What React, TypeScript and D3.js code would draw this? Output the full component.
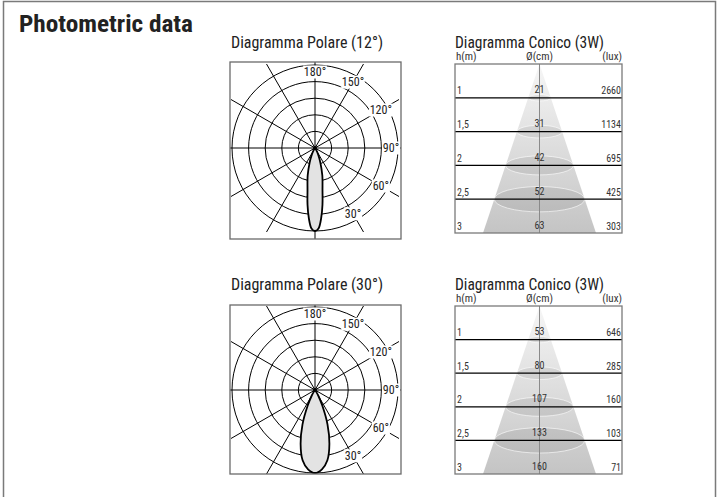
import React from "react";
import * as d3 from "d3";

// ---------- data ----------
const ringLevels = [0.2, 0.4, 0.6, 0.8, 1.0];
const spokeAngles = [0, 30, 60, 90, 120, 150, 180, 210, 240, 270, 300, 330];
const angleLabelValues = [180, 150, 120, 90, 60, 30];

// relative intensity vs. angle from the downward axis (degrees)
const lobe12Angles = [0, 2.5, 5, 7.5, 10, 15, 20, 25, 30, 40];
const lobe12Values = [1, 0.97, 0.85, 0.69, 0.52, 0.34, 0.19, 0.094, 0.04, 0];
const lobe30Angles = [0, 5, 10, 15, 20, 25, 30, 35, 40];
const lobe30Values = [1, 0.96, 0.86, 0.67, 0.44, 0.21, 0.08, 0.02, 0];

const heights = ["1", "1,5", "2", "2,5", "3"];
const diam12 = [21, 31, 42, 52, 63];
const lux12 = [2660, 1134, 695, 425, 303];
const diam30 = [53, 80, 107, 133, 160];
const lux30 = [646, 285, 160, 103, 71];

const FONT = "'Liberation Sans Narrow', 'Roboto Condensed', 'Liberation Sans', Arial, sans-serif";

type PolarProps = { x: number; y: number; w: number; h: number; cx: number; cy: number; angles: number[]; values: number[]; id: string };

function Polar({ x, y, w, h, cx, cy, angles, values, id }: PolarProps) {
  const R = 83;
  const r = d3.scaleLinear().domain([0, 1]).range([0, R]);
  const rad = (deg: number) => (deg * Math.PI) / 180;
  const pts: [number, number][] = [];
  for (let i = angles.length - 1; i >= 0; i--) pts.push([Math.PI - rad(angles[i]), r(values[i])]);
  for (let i = 1; i < angles.length; i++) pts.push([Math.PI + rad(angles[i]), r(values[i])]);
  const lobe = d3.lineRadial<[number, number]>().angle((d) => d[0]).radius((d) => d[1]).curve(d3.curveCatmullRom.alpha(0.5))(pts) || "";
  const spokeLen = 97;
  const labelR = 76;
  return (
    <g>
      <defs>
        <clipPath id={id}>
          <rect x={x} y={y} width={w} height={h} />
        </clipPath>
      </defs>
      <g clipPath={`url(#${id})`}>
        {spokeAngles.map((a) => (
          <line key={a} x1={cx} y1={cy} x2={cx + spokeLen * Math.sin(rad(a))} y2={cy - spokeLen * Math.cos(rad(a))} stroke="#000" strokeWidth={1} />
        ))}
        {ringLevels.map((l) => (
          <circle key={l} cx={cx} cy={cy} r={r(l)} fill="none" stroke="#000" strokeWidth={1} />
        ))}
        <path d={lobe} transform={`translate(${cx},${cy})`} fill="#e3e3e3" stroke="#000" strokeWidth={1.8} />
        <circle cx={cx} cy={cy} r={2} fill="#000" />
        {angleLabelValues.map((v) => {
          const a = rad(180 - v);
          const lx = cx + labelR * Math.sin(a);
          const ly = cy - labelR * Math.cos(a);
          const txt = `${v}°`;
          const tw = txt.length * 5.4;
          return (
            <g key={v}>
              <rect x={lx - tw / 2 - 1} y={ly - 6.5} width={tw + 2} height={13} fill="#fff" />
              <text x={lx} y={ly + 4.2} textAnchor="middle" fontSize={12} fontFamily={FONT} fill="#222">
                {txt}
              </text>
            </g>
          );
        })}
      </g>
      <rect x={x} y={y} width={w} height={h} fill="none" stroke="#6a6a6a" strokeWidth={1.3} />
    </g>
  );
}

type ConicProps = { x: number; y: number; w: number; h: number; diam: number[]; lux: number[]; id: string };

function Conic({ x, y, w, h, diam, lux, id }: ConicProps) {
  const band = d3.scaleBand<string>().domain(heights).range([y, y + h]).padding(0);
  const cx = x + w / 2 + 1;
  const half = d3.scaleLinear().domain([y, y + h]).range([0, 56.5]);
  const gid = id + "g";
  return (
    <g>
      <defs>
        <linearGradient id={gid} x1="0" y1="0" x2="0" y2="1">
          <stop offset="0" stopColor="#f6f6f6" />
          <stop offset="1" stopColor="#c4c4c4" />
        </linearGradient>
        <clipPath id={id}>
          <rect x={x} y={y} width={w} height={h} />
        </clipPath>
      </defs>
      <text x={x + 1} y={y - 4} fontSize={11} fontFamily={FONT} fill="#333">h(m)</text>
      <text x={cx} y={y - 4} fontSize={11} fontFamily={FONT} fill="#333" textAnchor="middle">Ø(cm)</text>
      <text x={x + w} y={y - 4} fontSize={11} fontFamily={FONT} fill="#333" textAnchor="end">(lux)</text>
      <g clipPath={`url(#${id})`}>
        <path d={`M${cx},${y} L${cx + half(y + h)},${y + h} L${cx - half(y + h)},${y + h} Z`} fill={`url(#${gid})`} />
        {heights.slice(0, 4).map((hh) => {
          const ly = (band(hh) as number) + band.bandwidth();
          const rx = half(ly);
          return <ellipse key={hh} cx={cx} cy={ly} rx={rx} ry={rx * 0.28} fill="#000" fillOpacity={0.07} stroke="#fff" strokeOpacity={0.6} strokeWidth={1} />;
        })}
        <line x1={cx} y1={y} x2={cx} y2={y + h} stroke="#8a8a8a" strokeWidth={1} />
        {heights.slice(0, 4).map((hh) => {
          const ly = (band(hh) as number) + band.bandwidth();
          return <line key={hh} x1={x} y1={ly} x2={x + w} y2={ly} stroke="#000" strokeWidth={1.2} />;
        })}
      </g>
      {heights.map((hh, i) => {
        const ly = (band(hh) as number) + band.bandwidth() - 3.5;
        return (
          <g key={hh} fontFamily={FONT} fontSize={10} fill="#333">
            <text x={x + 2} y={ly}>{hh}</text>
            <text x={cx} y={ly - 1} textAnchor="middle">{diam[i]}</text>
            <text x={x + w - 1} y={ly} textAnchor="end">{lux[i]}</text>
          </g>
        );
      })}
      <rect x={x} y={y} width={w} height={h} fill="none" stroke="#7a7a7a" strokeWidth={1.3} />
    </g>
  );
}

export default function App() {
  return (
    <svg width={718} height={497} style={{ position: "absolute", left: 0, top: 0 }}>
      <rect width={718} height={497} fill="#fff" />
      <path d="M3.5,497 V1.5 H715.5 V497" fill="none" stroke="#7a7a7a" strokeWidth={1.5} />
      <text x={19} y={32} fontSize={24} fontWeight="bold" fontFamily={FONT} fill="#222" textLength={174} lengthAdjust="spacingAndGlyphs">
        Photometric data
      </text>
      <text x={231} y={47.5} fontSize={16} fontFamily={FONT} fill="#222" textLength={152} lengthAdjust="spacingAndGlyphs">Diagramma Polare (12°)</text>
      <text x={455} y={47.5} fontSize={16} fontFamily={FONT} fill="#222" textLength={149} lengthAdjust="spacingAndGlyphs">Diagramma Conico (3W)</text>
      <text x={231} y={289.5} fontSize={16} fontFamily={FONT} fill="#222" textLength={152} lengthAdjust="spacingAndGlyphs">Diagramma Polare (30°)</text>
      <text x={455} y={289.5} fontSize={16} fontFamily={FONT} fill="#222" textLength={149} lengthAdjust="spacingAndGlyphs">Diagramma Conico (3W)</text>
      <Polar id="p1" x={230} y={62} w={171} h={177} cx={315} cy={148} angles={lobe12Angles} values={lobe12Values} />
      <Polar id="p2" x={230} y={305} w={171} h={169} cx={315} cy={390} angles={lobe30Angles} values={lobe30Values} />
      <Conic id="c1" x={455} y={64} w={167} h={169} diam={diam12} lux={lux12} />
      <Conic id="c2" x={455} y={306} w={167} h={168} diam={diam30} lux={lux30} />
    </svg>
  );
}
